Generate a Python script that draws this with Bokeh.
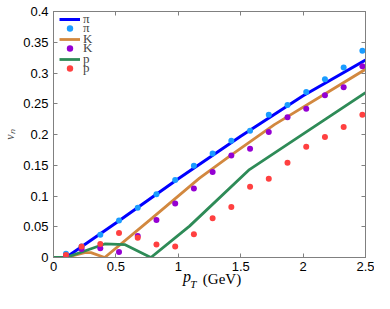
import math
from bokeh.plotting import figure
from bokeh.models import LinearAxis, Range1d, Legend, LegendItem, FixedTicker
from bokeh.embed import file_html
from bokeh.resources import INLINE

# ---- data ----
x_pts = [0.1, 0.225, 0.375, 0.525, 0.675, 0.825, 0.975, 1.125, 1.275, 1.425,
         1.575, 1.725, 1.875, 2.025, 2.175, 2.325, 2.475]
pi_pts = [0.006, 0.018, 0.037, 0.060, 0.081, 0.103, 0.126, 0.149, 0.169, 0.190,
          0.206, 0.232, 0.248, 0.269, 0.290, 0.309, 0.336]
K_pts = [0.003, 0.014, 0.015, 0.009, 0.035, 0.061, 0.088, 0.112, 0.139, 0.166,
         0.177, 0.204, 0.228, 0.242, 0.264, 0.277, 0.311]
p_pts = [0.004, 0.018, 0.022, 0.040, 0.032, 0.021, 0.018, 0.038, 0.064, 0.082,
         0.115, 0.128, 0.154, 0.180, 0.196, 0.212, 0.232]

pi_line_x = [0, 0.1, 0.5, 1.0, 1.5, 2.0, 2.5]
pi_line_y = [0, 0, 0.056, 0.128, 0.197, 0.263, 0.321]
K_line_x = [0, 0.1, 0.25, 0.3, 0.41, 0.79, 1.17, 1.42, 1.77, 2.5]
K_line_y = [0, 0, 0.008, 0.008, 0, 0.064, 0.129, 0.166, 0.216, 0.306]
p_line_x = [0, 0.1, 0.41, 0.57, 0.78, 1.09, 1.57, 1.92, 2.5]
p_line_y = [0, 0, 0.022, 0.021, 0, 0.051, 0.143, 0.19, 0.268]

x_ticks = [0, 0.5, 1, 1.5, 2, 2.5]
x_tick_labels = ["0", "0.5", "1", "1.5", "2", "2.5"]
y_ticks = [0, 0.05, 0.1, 0.15, 0.2, 0.25, 0.3, 0.35, 0.4]
y_tick_labels = ["0", "0.05", "0.1", "0.15", "0.2", "0.25", "0.3", "0.35", "0.4"]

line_labels = ["\u03c0", "K", "p"]
dot_labels = ["\u03c0", "K", "p"]

x_title_main = "p"
x_title_sub = "T"
x_title_unit = "(GeV)"
y_title = "v\u2099"

# ---- style ----
C_PI_LINE = "#0000ff"
C_PI_DOT = "#1a9cff"
C_K_LINE = "#d2883f"
C_K_DOT = "#9400d3"
C_P_LINE = "#2e8b57"
C_P_DOT = "#ff4040"
GRAY = "#808080"
TICK_FONT = "Liberation Sans"
SERIF = "Liberation Serif"

p = figure(width=374, height=293, output_backend="svg", toolbar_location=None,
           x_range=Range1d(0, 2.5), y_range=Range1d(0, 0.4),
           min_border_left=47, min_border_right=9, min_border_top=11,
           min_border_bottom=36, x_axis_type=None, y_axis_type=None)
p.grid.visible = False
p.outline_line_color = GRAY
p.background_fill_color = "white"
p.border_fill_color = "white"


def tick_axis(ticks, labels, show_labels, standoff):
    ax = LinearAxis(ticker=FixedTicker(ticks=ticks))
    ax.axis_line_color = GRAY
    ax.major_tick_line_color = GRAY
    ax.minor_tick_line_color = None
    ax.major_tick_in = 4
    ax.major_tick_out = 0
    ax.major_label_text_font = TICK_FONT
    if show_labels:
        ax.major_label_overrides = {t: l for t, l in zip(ticks, labels)}
        ax.major_label_text_font_size = "13px"
        ax.major_label_text_color = "black"
        ax.major_label_standoff = standoff
    else:
        ax.major_label_overrides = {t: "" for t in ticks}
        ax.major_label_text_font_size = "1px"
        ax.major_label_text_color = None
        ax.major_label_standoff = 0
    return ax


def text_axis(ticks, labels, size, style, standoff):
    ax = LinearAxis(ticker=FixedTicker(ticks=ticks))
    ax.major_label_overrides = {t: l for t, l in zip(ticks, labels)}
    ax.axis_line_color = None
    ax.major_tick_line_color = None
    ax.minor_tick_line_color = None
    ax.major_tick_in = 0
    ax.major_tick_out = 0
    ax.major_label_text_font = SERIF
    ax.major_label_text_font_size = size
    ax.major_label_text_font_style = style
    ax.major_label_text_color = "black"
    ax.major_label_standoff = standoff
    return ax


p.add_layout(tick_axis(x_ticks, x_tick_labels, True, 4), "below")
yl = tick_axis(y_ticks, y_tick_labels, True, 5)
yl.axis_label = y_title
yl.axis_label_text_font = SERIF
yl.axis_label_text_font_style = "italic"
yl.axis_label_text_font_size = "12px"
yl.axis_label_standoff = 3
p.add_layout(yl, "left")
p.add_layout(tick_axis(x_ticks, x_tick_labels, False, 0), "above")
p.add_layout(tick_axis(y_ticks, y_tick_labels, False, 0), "right")

# x title pieces
p.add_layout(text_axis([1.07], [x_title_main], "16px", "italic", -6), "below")
p.add_layout(text_axis([1.35], [x_title_unit], "15px", "normal", -17), "below")
p.add_layout(text_axis([1.121], [x_title_sub], "11px", "italic", -12), "below")

r_pl = p.line(pi_line_x, pi_line_y, line_color=C_PI_LINE, line_width=3)
r_kl = p.line(K_line_x, K_line_y, line_color=C_K_LINE, line_width=2.8)
r_gl = p.line(p_line_x, p_line_y, line_color=C_P_LINE, line_width=2.8)
r_pd = p.scatter(x_pts, pi_pts, size=6, fill_color=C_PI_DOT, line_color=None)
r_kd = p.scatter(x_pts, K_pts, size=6, fill_color=C_K_DOT, line_color=None)
r_rd = p.scatter(x_pts, p_pts, size=6, fill_color=C_P_DOT, line_color=None)


def make_legend(labels, rends, loc):
    return Legend(items=[LegendItem(label=l, renderers=[r]) for l, r in zip(labels, rends)],
                  location=loc, orientation="vertical",
                  border_line_color=None, background_fill_alpha=0,
                  label_text_font=SERIF, label_text_font_size="13px",
                  glyph_width=21, glyph_height=16, label_height=16,
                  label_standoff=3, spacing=4, padding=0, margin=0)


p.add_layout(make_legend(line_labels, [r_pl, r_kl, r_gl], (6, 190)))
p.add_layout(make_legend(dot_labels, [r_pd, r_kd, r_rd], (6, 181)))

open("out.html", "w").write(file_html(p, INLINE))
